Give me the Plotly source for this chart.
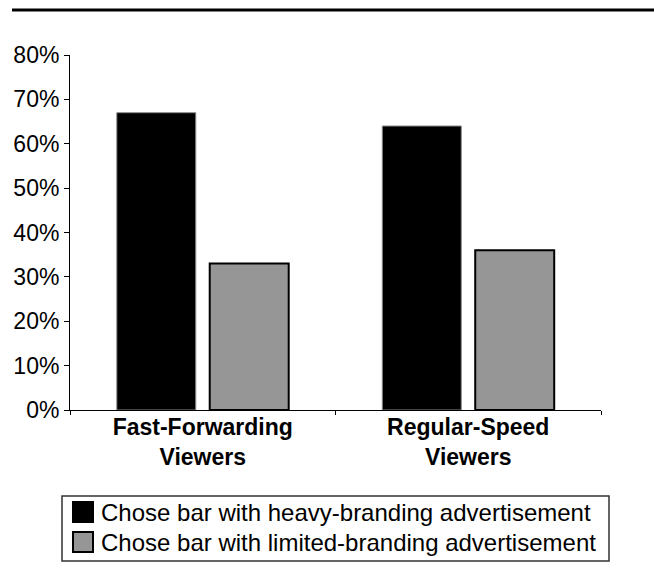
import plotly.graph_objects as go

categories = ["Fast-Forwarding<br>Viewers", "Regular-Speed<br>Viewers"]
heavy_branding = [0.67, 0.64]
limited_branding = [0.33, 0.36]
series_names = ["Chose bar with heavy-branding advertisement",
                "Chose bar with limited-branding advertisement"]
y_tick_values = [0, 0.1, 0.2, 0.3, 0.4, 0.5, 0.6, 0.7, 0.8]
y_tick_labels = ["0%", "10%", "20%", "30%", "40%", "50%", "60%", "70%", "80%"]

W, H = 654, 584
L, R, T, B = 70, 53, 55, 174
PW, PH = W - L - R, H - T - B


def px(x):
    return (x - L) / PW


def py(y):
    return (H - B - y) / PH


FONT = "Liberation Sans, Arial, Helvetica, sans-serif"
fill_colors = ["#000000", "#969696"]
edge_colors = ["#8a8a8a", "#000000"]
edge_widths = [1, 2]

fig = go.Figure()
for vals, name, fc, ec, ew in zip([heavy_branding, limited_branding], series_names,
                                  fill_colors, edge_colors, edge_widths):
    fig.add_trace(go.Bar(x=categories, y=vals, name=name,
                         marker=dict(color=fc, line=dict(color=ec, width=ew))))

fig.update_layout(
    width=W, height=H,
    margin=dict(l=L, r=R, t=T, b=B),
    paper_bgcolor="white", plot_bgcolor="white",
    barmode="group", bargap=0.30, bargroupgap=0.15,
    showlegend=False,
    font=dict(family=FONT, color="black"),
)
fig.update_yaxes(range=[0, 0.8], tickvals=y_tick_values, ticktext=y_tick_labels,
                 showgrid=False, zeroline=False, showline=True, linecolor="black",
                 linewidth=1, ticks="outside", ticklen=5, tickcolor="black",
                 tickfont=dict(size=23, family=FONT))
fig.update_xaxes(showgrid=False, showline=True, linecolor="black", linewidth=1,
                 ticks="outside", tickson="boundaries", ticklen=4, tickcolor="black",
                 tickfont=dict(size=23, family=FONT, color="black", weight="bold"),
                 ticklabelstandoff=-4)

shapes = []
# top rule
shapes.append(dict(type="line", xref="paper", yref="paper", x0=px(12), x1=px(654),
                   y0=py(10), y1=py(10), line=dict(color="black", width=3)))
# legend box
shapes.append(dict(type="rect", xref="paper", yref="paper", x0=px(62), x1=px(609),
                   y0=py(561), y1=py(496), line=dict(color="#333333", width=1.5),
                   fillcolor="white"))
rows_y = [512, 542]
for yc, fc, ec in zip(rows_y, fill_colors, ["#000000", "#000000"]):
    shapes.append(dict(type="rect", xref="paper", yref="paper", x0=px(73), x1=px(93),
                       y0=py(yc + 10), y1=py(yc - 10),
                       line=dict(color=ec, width=2), fillcolor=fc))
annotations = []
for yc, name in zip(rows_y, series_names):
    annotations.append(dict(xref="paper", yref="paper", x=px(99), y=py(yc),
                            xanchor="left", yanchor="middle", text=name,
                            showarrow=False, font=dict(size=24, family=FONT, color="black")))
fig.update_layout(shapes=shapes, annotations=annotations)

fig.write_html("out.html")
